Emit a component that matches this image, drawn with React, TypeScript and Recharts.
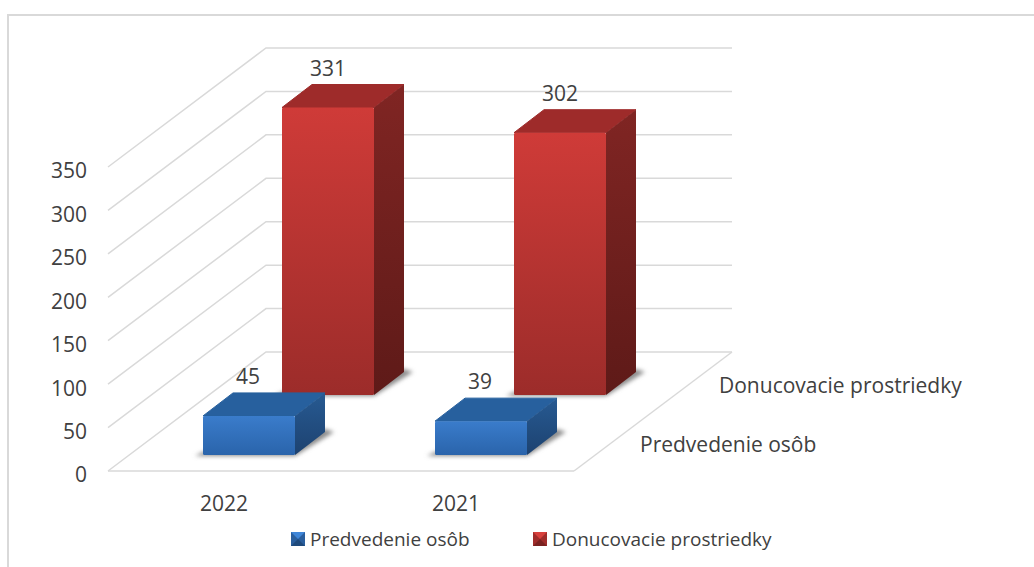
import { ComposedChart, Bar, XAxis, YAxis, CartesianGrid, Legend } from "recharts";

const YEARS = ["2022", "2021"];
const PREDVEDENIE = [45, 39];
const DONUCOVACIE = [331, 302];
const Y_TICKS = [0, 50, 100, 150, 200, 250, 300, 350];
const NAME_FRONT = "Predvedenie osôb";
const NAME_BACK = "Donucovacie prostriedky";

const data = YEARS.map((year, i) => ({
    year,
    front: PREDVEDENIE[i],
    back: DONUCOVACIE[i],
}));

const FONT = "'Open Sans', sans-serif";
const TEXT = "#404040";
const GRID = "#d9d9d9";
const PLOT_BOTTOM = 471;
// wall depth of the fake 3D box
const WALL_DX = 158;
const WALL_DY = -119;
// bar depth
const DEPTH_X = 30;
const DEPTH_Y = -23;

const RED = { top: "#9e2b2a", side: "redSide", face: "redFace" };
const BLUE = { top: "#27609e", side: "blueSide", face: "blueFace" };

function GridLine({ x1, y1, x2 }: any) {
    const p = `M${x1},${y1} L${x1 + WALL_DX},${y1 + WALL_DY} L${x2 + WALL_DX},${y1 + WALL_DY}`;
    const floor = Math.abs(y1 - PLOT_BOTTOM) < 1;
    return (
        <g fill="none" stroke={GRID} strokeWidth={1.5}>
            <path d={p} />
            {floor && <path d={`M${x2},${y1} L${x2 + WALL_DX},${y1 + WALL_DY}`} />}
        </g>
    );
}

function box3d(col: typeof RED, dx: number, dy: number) {
    return (props: any) => {
        const x = props.x + dx;
        const y = props.y + dy;
        const w = props.width;
        const h = props.height;
        const b = y + h;
        const r = x + w;
        return (
            <g strokeLinejoin="round">
                <path
                    d={`M${x - 8},${b + 1} L${r},${b + 1} L${r + DEPTH_X + 9},${b + DEPTH_Y} L${r + DEPTH_X},${b + DEPTH_Y - 3} L${x},${b - 3} Z`}
                    fill="#8c8c8c"
                    filter="url(#blur)"
                />
                <path
                    d={`M${x},${y} L${x + DEPTH_X},${y + DEPTH_Y} L${r + DEPTH_X},${y + DEPTH_Y} L${r},${y} Z`}
                    fill={col.top}
                    stroke={col.top}
                />
                <path
                    d={`M${r},${y} L${r + DEPTH_X},${y + DEPTH_Y} L${r + DEPTH_X},${b + DEPTH_Y} L${r},${b} Z`}
                    fill={`url(#${col.side})`}
                />
                <rect x={x} y={y} width={w} height={h} rx={1.5} fill={`url(#${col.face})`} />
            </g>
        );
    };
}

function valueLabel(dx: number, dy: number) {
    return (props: any) => (
        <text
            x={props.x + props.width / 2 + dx}
            y={props.y + dy - 41}
            textAnchor="middle"
            dominantBaseline="central"
            fontFamily={FONT}
            fontSize={21}
            fill={TEXT}
        >
            {props.value}
        </text>
    );
}

function Marker({ light, mid, dark }: { light: string; mid: string; dark: string }) {
    return (
        <svg width={14} height={14} style={{ marginRight: 5, flex: "none" }}>
            <rect width={14} height={14} fill={mid} />
            <path d="M0,0 L14,0 L7,7 Z" fill={light} />
            <path d="M0,14 L14,14 L7,7 Z" fill={dark} />
        </svg>
    );
}

function LegendBox() {
    return (
        <div
            style={{
                display: "flex",
                alignItems: "center",
                whiteSpace: "nowrap",
                marginLeft: 291,
                fontFamily: FONT,
                fontSize: 19,
                color: TEXT,
            }}
        >
            <div style={{ display: "flex", alignItems: "center", width: 242 }}>
                <Marker light="#3f86d8" mid="#2a5f9e" dark="#1f4a7c" />
                {NAME_FRONT}
            </div>
            <div style={{ display: "flex", alignItems: "center" }}>
                <Marker light="#d8403c" mid="#a02d2b" dark="#7a2220" />
                {NAME_BACK}
            </div>
        </div>
    );
}

export default function App() {
    return (
        <div style={{ position: "absolute", left: 0, top: 0, width: 1034, height: 567, overflow: "hidden", background: "#fff" }}>
            <div
                style={{
                    position: "absolute",
                    left: 7,
                    top: 14,
                    right: 0,
                    bottom: 0,
                    borderTop: `2px solid ${GRID}`,
                    borderLeft: `2px solid ${GRID}`,
                }}
            />
            <ComposedChart
                width={1034}
                height={567}
                data={data}
                barGap={-92}
                margin={{ top: 167, right: 460, bottom: 0, left: 48 }}
                style={{ position: "absolute", left: 0, top: 0 }}
            >
                <defs>
                    <linearGradient id="redFace" x1="0" y1="0" x2="0" y2="1">
                        <stop offset="0" stopColor="#cf3b38" />
                        <stop offset="1" stopColor="#9c2c2a" />
                    </linearGradient>
                    <linearGradient id="redSide" x1="0" y1="0" x2="0" y2="1">
                        <stop offset="0" stopColor="#802523" />
                        <stop offset="1" stopColor="#5e1a18" />
                    </linearGradient>
                    <linearGradient id="blueFace" x1="0" y1="0" x2="0" y2="1">
                        <stop offset="0" stopColor="#3a7ccb" />
                        <stop offset="1" stopColor="#2a64ab" />
                    </linearGradient>
                    <linearGradient id="blueSide" x1="0" y1="0" x2="0" y2="1">
                        <stop offset="0" stopColor="#275a92" />
                        <stop offset="1" stopColor="#1d4270" />
                    </linearGradient>
                    <filter id="blur" x="-20%" y="-50%" width="140%" height="200%">
                        <feGaussianBlur stdDeviation="2" />
                    </filter>
                </defs>
                <CartesianGrid vertical={false} horizontal={(p: any) => <GridLine key={p.key ?? p.y1} {...p} />} />
                <XAxis
                    dataKey="year"
                    height={60}
                    padding={{ left: 0, right: 2 }}
                    tickLine={false}
                    tickSize={0}
                    tickMargin={25}
                    axisLine={{ stroke: GRID, strokeWidth: 1.5 }}
                    tick={{ fontFamily: FONT, fontSize: 21, fill: TEXT }}
                />
                <YAxis
                    width={60}
                    domain={[0, 350]}
                    ticks={Y_TICKS}
                    tickLine={false}
                    axisLine={false}
                    tickSize={0}
                    tickMargin={21}
                    tick={{ fontFamily: FONT, fontSize: 21, fill: TEXT, dy: 4 }}
                />
                <Legend height={36} content={<LegendBox />} wrapperStyle={{ left: 0, width: 1034, top: 526 }} />
                <Bar
                    dataKey="back"
                    name={NAME_BACK}
                    barSize={92}
                    isAnimationActive={false}
                    shape={box3d(RED, 104, -76)}
                    label={valueLabel(104, -75)}
                />
                <Bar
                    dataKey="front"
                    name={NAME_FRONT}
                    barSize={92}
                    isAnimationActive={false}
                    shape={box3d(BLUE, 25, -16)}
                    label={valueLabel(24, -15)}
                />
                <text x={640} y={444} dominantBaseline="central" fontFamily={FONT} fontSize={21} fill={TEXT}>
                    {NAME_FRONT}
                </text>
                <text x={719} y={385} dominantBaseline="central" fontFamily={FONT} fontSize={21} fill={TEXT}>
                    {NAME_BACK}
                </text>
            </ComposedChart>
        </div>
    );
}
